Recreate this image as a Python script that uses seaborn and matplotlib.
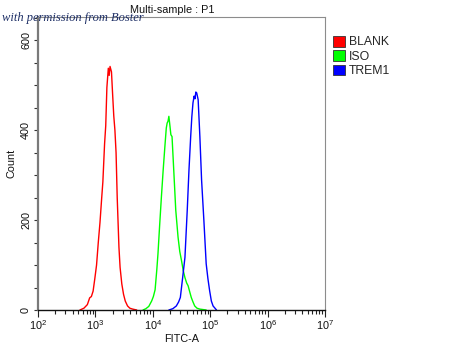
import matplotlib
matplotlib.use("Agg")
import matplotlib.pyplot as plt
from matplotlib.patches import Patch
from matplotlib.ticker import MultipleLocator, LogLocator, LogFormatterSciNotation, NullFormatter
import numpy as np
import pandas as pd
import seaborn as sns

# Histogram traces: log10 of FITC-A intensity and event count per channel
blank_log = [2.73, 2.80, 2.86, 2.90, 2.93, 2.96, 2.99, 3.02, 3.05, 3.08, 3.11, 3.13, 3.16, 3.18,
             3.20, 3.225, 3.24, 3.255, 3.28, 3.30, 3.32, 3.34, 3.36, 3.38, 3.41, 3.43, 3.46, 3.49,
             3.52, 3.56, 3.60, 3.65, 3.72]
blank_cnt = [0, 4, 12, 27, 30, 42, 70, 100, 150, 195, 250, 285, 370, 410,
             495, 538, 522, 542, 530, 480, 432, 400, 350, 250, 140, 95, 58, 35,
             20, 9, 4, 2, 0]

iso_log = [3.83, 3.88, 3.93, 3.98, 4.01, 4.04, 4.07, 4.09, 4.12, 4.15, 4.18, 4.21, 4.235,
           4.25, 4.265, 4.28, 4.30, 4.315, 4.335, 4.365, 4.40, 4.44, 4.47, 4.50, 4.53,
           4.56, 4.59, 4.615, 4.64, 4.67, 4.70, 4.73, 4.77, 4.82, 4.93]
iso_cnt = [0, 3, 8, 20, 30, 45, 90, 125, 190, 252, 310, 363, 405,
           416, 420, 431, 408, 390, 386, 311, 222, 162, 130, 110, 88,
           72, 60, 54, 42, 28, 18, 9, 4, 2, 0]

trem1_log = [4.28, 4.35, 4.41, 4.45, 4.48, 4.52, 4.56, 4.60, 4.63, 4.66, 4.68, 4.70, 4.72,
             4.735, 4.75, 4.765, 4.79, 4.82, 4.85, 4.89, 4.93, 4.96, 4.99, 5.02, 5.05, 5.11]
trem1_cnt = [0, 3, 9, 18, 28, 72, 117, 222, 311, 386, 430, 461, 476,
             470, 485, 483, 468, 386, 289, 199, 103, 70, 43, 20, 9, 0]

samples = ["BLANK", "ISO", "TREM1"]
colors = ["#ff0000", "#00ff00", "#0000ff"]

frames = []
for name, lx, cnt in [("BLANK", blank_log, blank_cnt),
                      ("ISO", iso_log, iso_cnt),
                      ("TREM1", trem1_log, trem1_cnt)]:
    frames.append(pd.DataFrame({"FITC-A": 10 ** np.array(lx), "Count": cnt, "sample": name}))
df = pd.concat(frames, ignore_index=True)

sns.set_theme(style="ticks")
plt.rcParams["font.family"] = ["Liberation Sans", "DejaVu Sans"]
plt.rcParams["mathtext.fontset"] = "custom"
plt.rcParams["mathtext.rm"] = "Liberation Sans"
plt.rcParams["mathtext.it"] = "Liberation Sans"

fig = plt.figure(figsize=(4.5, 3.45), dpi=100)
ax = fig.add_axes([38 / 450, 35 / 345, 287 / 450, 293 / 345])

sns.lineplot(data=df, x="FITC-A", y="Count", hue="sample", hue_order=samples,
             palette=dict(zip(samples, colors)), sort=False, estimator=None,
             linewidth=1.0, legend=False, ax=ax)

ax.set_xscale("log")
ax.set_xlim(1e2, 1e7)
ax.set_ylim(0, 652)

ax.xaxis.set_major_locator(LogLocator(base=10, numticks=10))
ax.xaxis.set_major_formatter(LogFormatterSciNotation())
ax.xaxis.set_minor_locator(LogLocator(base=10, subs=np.arange(2, 10), numticks=20))
ax.xaxis.set_minor_formatter(NullFormatter())
ax.yaxis.set_major_locator(MultipleLocator(200))
ax.yaxis.set_minor_locator(MultipleLocator(50))

ax.tick_params(axis="x", which="major", length=5, width=0.8, color="#222222",
               labelsize=7.8, pad=1, labelcolor="#111111")
ax.tick_params(axis="x", which="minor", length=3, width=0.8, color="#222222")
ax.tick_params(axis="y", which="both", length=3, width=0.8, color="#333333",
               labelsize=7.8, pad=2, labelcolor="#111111")
for lab in ax.get_yticklabels():
    lab.set_rotation(90)
    lab.set_va("center")

ax.spines["left"].set_color("#7a7a7a")
ax.spines["left"].set_linewidth(1.6)
ax.spines["bottom"].set_color("#111111")
ax.spines["bottom"].set_linewidth(1.0)
for s in ("top", "right"):
    ax.spines[s].set_visible(True)
    ax.spines[s].set_color("#8c8c8c")
    ax.spines[s].set_linewidth(0.8)

ax.set_xlabel("FITC-A", fontsize=7.8, labelpad=1, color="#111111")
ax.set_ylabel("Count", fontsize=7.8, labelpad=3, color="#111111")

fig.text(172 / 450, 1 - 10 / 345, "Multi-sample : P1", ha="center", va="center",
         fontsize=7.8, color="#111111")
fig.text(2 / 450, 1 - 18 / 345, "with permission from Boster", ha="left", va="center",
         fontsize=9, style="italic", family=["Liberation Serif", "DejaVu Serif"],
         color="#1e2f66")

handles = [Patch(facecolor=c, edgecolor="#333333", linewidth=0.6) for c in colors]
fig.legend(handles, samples, loc="upper left", bbox_to_anchor=(333 / 450, 1 - 36 / 345),
           frameon=False, fontsize=8.8, handlelength=0.95, handleheight=0.95,
           handletextpad=0.35, labelspacing=0.15, borderpad=0, borderaxespad=0)

fig.savefig("out.png", dpi=100)
